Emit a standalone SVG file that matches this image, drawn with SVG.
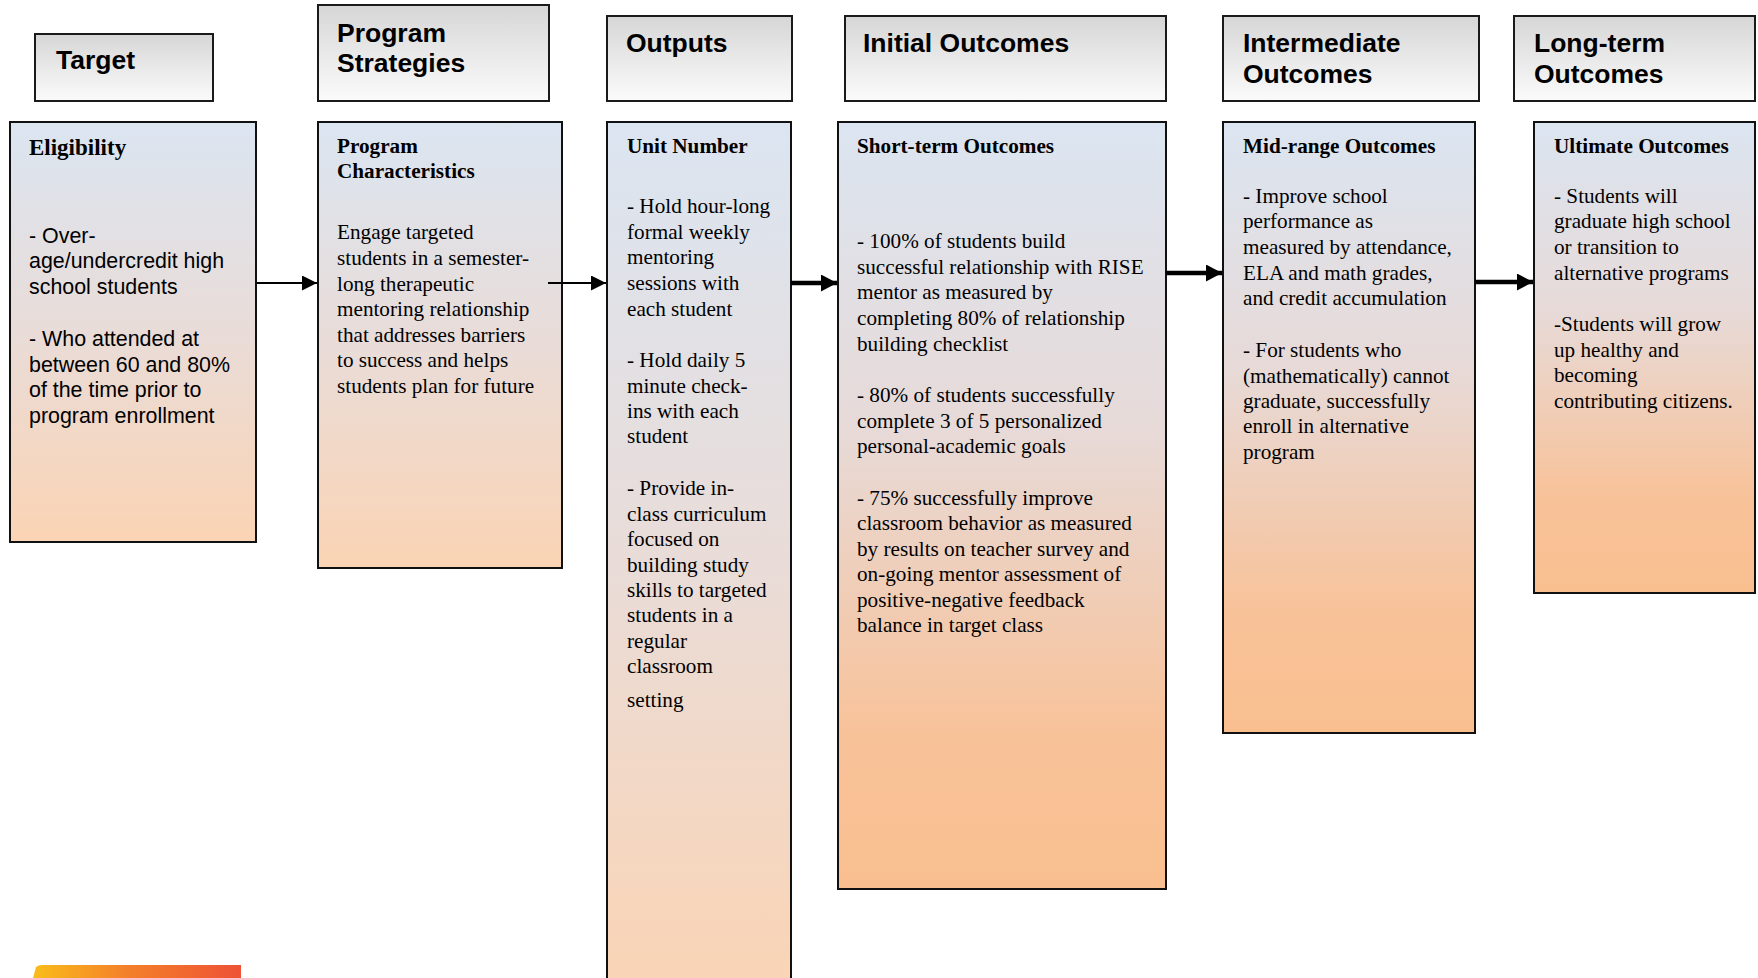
<svg xmlns="http://www.w3.org/2000/svg" width="1758" height="978" viewBox="0 0 1758 978">
<defs>
<linearGradient id="hdr" x1="0" y1="0" x2="0" y2="1">
<stop offset="0" stop-color="#d6d6d6"/>
<stop offset="1" stop-color="#fbfbfb"/>
</linearGradient>
<linearGradient id="gA" x1="0" y1="0" x2="0" y2="1">
<stop offset="0" stop-color="#dbe5f1"/>
<stop offset="0.5" stop-color="#e9dcd8"/>
<stop offset="1" stop-color="#fbd4b4"/>
</linearGradient>
<linearGradient id="gB" x1="0" y1="0" x2="0" y2="1">
<stop offset="0" stop-color="#dbe5f1"/>
<stop offset="0.4" stop-color="#e7dad8"/>
<stop offset="0.8" stop-color="#f8c299"/>
<stop offset="1" stop-color="#f9bf8f"/>
</linearGradient>
<linearGradient id="deco" x1="0" y1="0" x2="1" y2="0">
<stop offset="0" stop-color="#f9bd1a"/>
<stop offset="0.45" stop-color="#f4802a"/>
<stop offset="1" stop-color="#ee5236"/>
</linearGradient>
<marker id="ahThin" markerUnits="userSpaceOnUse" markerWidth="15" markerHeight="15" refX="15" refY="7.5" orient="auto">
<path d="M0,0 L15,7.5 L0,15 Z" fill="#000"/>
</marker>
<marker id="ahThick" markerUnits="userSpaceOnUse" markerWidth="16" markerHeight="17" refX="16" refY="8.5" orient="auto">
<path d="M0,0 L16,8.5 L0,17 Z" fill="#000"/>
</marker>
</defs>
<style>
.hbox{fill:url(#hdr);stroke:#1a1a1a;stroke-width:2}
.bA{fill:url(#gA);stroke:#111;stroke-width:2}
.bB{fill:url(#gB);stroke:#111;stroke-width:2}
.ht{font-family:"Liberation Sans",Arial,sans-serif;font-weight:bold;font-size:26.5px;fill:#000}
.bh{font-family:"Liberation Serif","Times New Roman",serif;font-weight:bold;font-size:21.2px;fill:#000}
.bt{font-family:"Liberation Serif","Times New Roman",serif;font-size:21.2px;fill:#000}
.at{font-family:"Liberation Sans",Arial,sans-serif;font-size:21.4px;fill:#000}
.thin{stroke:#000;stroke-width:2;fill:none;marker-end:url(#ahThin)}
.thick{stroke:#000;stroke-width:4.5;fill:none;marker-end:url(#ahThick)}
</style>
<rect width="1758" height="978" fill="#fff"/>

<g id="hdr-target">
<rect class="hbox" x="35" y="34" width="178" height="67"/>
<text class="ht" x="56" y="69">Target</text>
</g>
<g id="hdr-strategies">
<rect class="hbox" x="318" y="5" width="231" height="96"/>
<text class="ht" x="337" y="42">Program</text>
<text class="ht" x="337" y="72">Strategies</text>
</g>
<g id="hdr-outputs">
<rect class="hbox" x="607" y="16" width="185" height="85"/>
<text class="ht" x="626" y="52">Outputs</text>
</g>
<g id="hdr-initial">
<rect class="hbox" x="845" y="16" width="321" height="85"/>
<text class="ht" x="863" y="52">Initial Outcomes</text>
</g>
<g id="hdr-intermediate">
<rect class="hbox" x="1223" y="16" width="256" height="85"/>
<text class="ht" x="1243" y="52">Intermediate</text>
<text class="ht" x="1243" y="83">Outcomes</text>
</g>
<g id="hdr-longterm">
<rect class="hbox" x="1514" y="16" width="241" height="85"/>
<text class="ht" x="1534" y="52">Long-term</text>
<text class="ht" x="1534" y="83">Outcomes</text>
</g>

<g id="eligibility">
<rect class="bA" x="10" y="122" width="246" height="420"/>
<text class="bh" x="29" y="155" style="font-size:23px">Eligibility</text>
<text class="at" x="29" y="243">- Over-</text>
<text class="at" x="29" y="268">age/undercredit high</text>
<text class="at" x="29" y="294">school students</text>
<text class="at" x="29" y="346">- Who attended at</text>
<text class="at" x="29" y="372">between 60 and 80%</text>
<text class="at" x="29" y="397">of the time prior to</text>
<text class="at" x="29" y="423">program enrollment</text>
</g>

<g id="program-characteristics">
<rect class="bA" x="318" y="122" width="244" height="446"/>
<text class="bh" x="337" y="153">Program</text>
<text class="bh" x="337" y="178">Characteristics</text>
<text class="bt" x="337" y="239">Engage targeted</text>
<text class="bt" x="337" y="265">students in a semester-</text>
<text class="bt" x="337" y="291">long therapeutic</text>
<text class="bt" x="337" y="316">mentoring relationship</text>
<text class="bt" x="337" y="342">that addresses barriers</text>
<text class="bt" x="337" y="367">to success and helps</text>
<text class="bt" x="337" y="393">students plan for future</text>
</g>

<g id="unit-number">
<rect class="bA" x="607" y="122" width="184" height="880"/>
<text class="bh" x="627" y="153">Unit Number</text>
<text class="bt" x="627" y="213">- Hold hour-long</text>
<text class="bt" x="627" y="239">formal weekly</text>
<text class="bt" x="627" y="264">mentoring</text>
<text class="bt" x="627" y="290">sessions with</text>
<text class="bt" x="627" y="316">each student</text>
<text class="bt" x="627" y="367">- Hold daily 5</text>
<text class="bt" x="627" y="393">minute check-</text>
<text class="bt" x="627" y="418">ins with each</text>
<text class="bt" x="627" y="443">student</text>
<text class="bt" x="627" y="495">- Provide in-</text>
<text class="bt" x="627" y="521">class curriculum</text>
<text class="bt" x="627" y="546">focused on</text>
<text class="bt" x="627" y="572">building study</text>
<text class="bt" x="627" y="597">skills to targeted</text>
<text class="bt" x="627" y="622">students in a</text>
<text class="bt" x="627" y="648">regular</text>
<text class="bt" x="627" y="673">classroom</text>
<text class="bt" x="627" y="707">setting</text>
</g>

<g id="short-term">
<rect class="bB" x="838" y="122" width="328" height="767"/>
<text class="bh" x="857" y="153">Short-term Outcomes</text>
<text class="bt" x="857" y="248">- 100% of students build</text>
<text class="bt" x="857" y="274">successful relationship with RISE</text>
<text class="bt" x="857" y="299">mentor as measured by</text>
<text class="bt" x="857" y="325">completing 80% of relationship</text>
<text class="bt" x="857" y="351">building checklist</text>
<text class="bt" x="857" y="402">- 80% of students successfully</text>
<text class="bt" x="857" y="428">complete 3 of 5 personalized</text>
<text class="bt" x="857" y="453">personal-academic goals</text>
<text class="bt" x="857" y="505">- 75% successfully improve</text>
<text class="bt" x="857" y="530">classroom behavior as measured</text>
<text class="bt" x="857" y="556">by results on teacher survey and</text>
<text class="bt" x="857" y="581">on-going mentor assessment of</text>
<text class="bt" x="857" y="607">positive-negative feedback</text>
<text class="bt" x="857" y="632">balance in target class</text>
</g>

<g id="mid-range">
<rect class="bB" x="1223" y="122" width="252" height="611"/>
<text class="bh" x="1243" y="153">Mid-range Outcomes</text>
<text class="bt" x="1243" y="203">- Improve school</text>
<text class="bt" x="1243" y="228">performance as</text>
<text class="bt" x="1243" y="254">measured by attendance,</text>
<text class="bt" x="1243" y="280">ELA and math grades,</text>
<text class="bt" x="1243" y="305">and credit accumulation</text>
<text class="bt" x="1243" y="357">- For students who</text>
<text class="bt" x="1243" y="383">(mathematically) cannot</text>
<text class="bt" x="1243" y="408">graduate, successfully</text>
<text class="bt" x="1243" y="433">enroll in alternative</text>
<text class="bt" x="1243" y="459">program</text>
</g>

<g id="ultimate">
<rect class="bB" x="1534" y="122" width="221" height="471"/>
<text class="bh" x="1554" y="153">Ultimate Outcomes</text>
<text class="bt" x="1554" y="203">- Students will</text>
<text class="bt" x="1554" y="228">graduate high school</text>
<text class="bt" x="1554" y="254">or transition to</text>
<text class="bt" x="1554" y="280">alternative programs</text>
<text class="bt" x="1554" y="331">-Students will grow</text>
<text class="bt" x="1554" y="357">up healthy and</text>
<text class="bt" x="1554" y="382">becoming</text>
<text class="bt" x="1554" y="408">contributing citizens.</text>
</g>

<g id="connectors">
<line class="thin" x1="257" y1="283" x2="317" y2="283"/>
<line class="thin" x1="548" y1="283" x2="606" y2="283"/>
<line class="thick" x1="791" y1="283" x2="837" y2="283"/>
<line class="thick" x1="1166" y1="273" x2="1222" y2="273"/>
<line class="thick" x1="1475" y1="282" x2="1533" y2="282"/>
</g>

<path d="M36,967 Q38,965 42,965 L241,965 L241,978 L33,978 Z" fill="url(#deco)"/>
</svg>
